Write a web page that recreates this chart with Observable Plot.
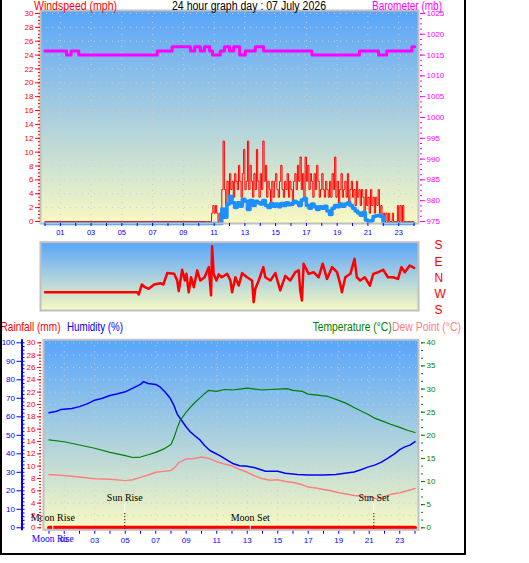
<!DOCTYPE html>
<html>
<head>
<meta charset="utf-8">
<script src="https://cdn.jsdelivr.net/npm/d3@7"></script>
<script src="https://cdn.jsdelivr.net/npm/@observablehq/plot@0.6"></script>
<style>
  html, body { margin: 0; padding: 0; background: #fff; }
  #chart { position: relative; width: 529px; height: 563px; overflow: hidden; background: #fff; }
</style>
</head>
<body>
<div id="chart"></div>
<script>
// ---------------- data ----------------
const dayTitle = "24 hour graph day : 07 July 2026";

// Barometer (mb), step changes: hour of change and new reading
const baroHours  = [0, 1.4, 1.7, 2.2, 7.3, 8.27, 9.46, 9.74, 10.1, 10.37, 10.71, 10.9, 11.4, 11.67, 12.0, 12.27, 12.66, 13.03, 13.68, 14.22, 17.36, 20.45, 21.69, 22.23, 23.86, 24.05];
const baroValues = [1016, 1015, 1016, 1015, 1016, 1017, 1016, 1017, 1016, 1017, 1016, 1015, 1016, 1017, 1016, 1017, 1015, 1016, 1017, 1016, 1015, 1016, 1015, 1016, 1017, 1017];

// Wind gust (mph), 5-minute readings from 10:30; calm before that
const gustStart = 10.5, gustStep = 5 / 60;
const gustValues = [
  0, 0, 0, 0, 1.2, 2.3, 1.2, 2.3, 1.2, 0, 1.2, 0,
  4.6, 11.6, 4.6, 2.3, 5.8, 3.5, 6.9, 4.6, 5.8, 3.5, 6.9, 5.8,
  4.6, 8.1, 5.8, 3.5, 6.9, 10.4, 4.6, 5.8, 11.6, 4.6, 8.1, 5.8,
  3.5, 6.9, 4.6, 10.4, 5.8, 3.5, 6.9, 4.6, 11.6, 5.8, 8.1, 3.5,
  5.8, 4.6, 2.3, 5.8, 3.5, 5.8, 6.9, 4.6, 3.5, 5.8, 8.1, 4.6,
  3.5, 5.8, 4.6, 6.9, 3.5, 5.8, 4.6, 2.3, 5.8, 6.9, 4.6, 8.1,
  5.8, 9.3, 4.6, 6.9, 3.5, 9.3, 5.8, 8.1, 4.6, 6.9, 5.8, 3.5,
  6.9, 4.6, 8.1, 5.8, 3.5, 4.6, 6.9, 4.6, 3.5, 5.8, 4.6, 3.5,
  5.8, 3.5, 6.9, 4.6, 9.3, 3.5, 5.8, 2.3, 4.6, 6.9, 3.5, 4.6,
  5.8, 3.5, 6.9, 2.3, 4.6, 5.8, 3.5, 4.6, 2.3, 5.8, 3.5, 4.6,
  2.3, 4.6, 3.5, 1.2, 4.6, 2.3, 3.5, 1.2, 4.6, 2.3, 3.5, 1.2,
  3.5, 2.3, 4.6, 1.2, 2.3, 0, 1.2, 0, 1.2, 0, 1.2, 0,
  0, 1.2, 0, 0, 0, 2.3, 0, 2.3, 0, 2.3, 0, 0,
  0, 0, 0, 0, 0, 0, 0
];

// Average wind speed (mph), 10-minute readings from 11:30; calm otherwise
const avgStart = 11.5, avgStep = 10 / 60;
const avgValues = [
  2.1, 0.9, 2.8, 3.9, 3.0, 2.3,
  3.0, 2.5, 3.5, 3.2, 2.0, 3.3,
  2.6, 3.2, 3.0, 2.8, 3.3, 2.6,
  2.3, 2.9, 2.5, 2.8, 2.4, 2.9,
  2.6, 3.0, 2.7, 2.9, 3.2, 3.0,
  2.6, 3.4, 3.6, 2.6, 2.2, 2.8,
  2.4, 2.0, 2.4, 2.2, 2.5, 1.8,
  1.3, 2.2, 2.6, 2.4, 2.8, 2.5,
  2.8, 3.0, 2.6, 2.2, 1.8, 1.5,
  1.2, 1.6, 0.5, 0.2, 0.4, 1.0,
  1.1, 1.2, 1.0, 0
];

// Wind direction (compass bearing, degrees)
const dirHours = [0, 6.0, 6.1, 6.3, 6.5, 6.75, 7.1, 7.5, 7.7, 7.95, 8.4, 8.6, 8.7, 8.92, 9.1, 9.2, 9.35, 9.5, 9.68, 9.9,
  10.1, 10.38, 10.65, 10.8, 10.87, 10.97, 11.15, 11.3, 11.5, 11.85, 12.06, 12.17, 12.38, 12.6, 12.82, 13.14, 13.47, 13.57, 13.68, 13.9,
  14.2, 14.33, 14.66, 14.98, 15.3, 15.63, 15.95, 16.28, 16.5, 16.6, 16.71, 16.82, 17.15, 17.47, 17.8, 18.06, 18.34, 18.67, 18.99, 19.2,
  19.31, 19.53, 19.86, 20.13, 20.28, 20.5, 20.8, 21.13, 21.35, 21.67, 22.0, 22.3, 22.64, 22.96, 23.18, 23.4, 23.72, 24.0];
const dirBearings = [281, 281, 269, 324, 309, 300, 324, 331, 324, 27, 23, 346, 287, 45, 346, 23, 281, 4, 309, 42,
  346, 4, 60, 263, 175, 23, 346, 20, 4, 23, 346, 281, 4, 318, 27, 4, 346, 226, 300, 346,
  60, 4, 346, 27, 291, 12, 346, 32, 42, 291, 235, 79, 23, 32, 4, 79, 355, 60, 32, 327,
  281, 4, 23, 106, 4, 346, 4, 318, 23, 32, 45, 4, 4, 355, 60, 32, 69, 56];
const compassAt = [180, 90, 0, -90, -180];
const compassLabels = ["S", "E", "N", "W", "S"];

// Humidity (%)
const humHours  = [0, 0.5, 0.8, 1.5, 2, 2.5, 3, 3.5, 4, 4.5, 5, 5.5, 6, 6.2, 6.5, 7, 7.3, 7.6, 7.95, 8.2, 8.4, 8.7, 9, 9.25, 9.6, 9.9, 10.2, 10.55, 11.2, 11.6, 12.1, 12.5, 13, 13.5, 14.2, 15, 15.5, 16.3, 17, 18, 18.8, 19.4, 20, 20.5, 20.9, 21.4, 21.8, 22.2, 22.65, 23, 23.3, 23.7, 24];
const humValues = [62.2, 63, 64, 64.5, 65.5, 67, 69, 70, 71.5, 72.5, 73.5, 75.5, 77.5, 79, 78, 77.5, 76, 73.5, 70, 66, 61.6, 58, 54.5, 52, 49.5, 47.5, 44.5, 41.8, 39, 37, 34.6, 33.5, 33.3, 32.5, 30.6, 30.6, 29.5, 28.8, 28.5, 28.5, 28.8, 29.5, 30.2, 31.5, 32.8, 34, 35.5, 37.5, 40, 42.3, 43.6, 44.8, 46.6];

// Temperature (°C)
const tempHours  = [0, 1, 2, 3, 4, 5, 5.5, 6, 6.5, 7, 7.5, 8, 8.2, 8.4, 8.6, 9, 9.25, 9.6, 9.9, 10.2, 10.45, 11, 11.5, 12, 12.5, 13, 13.5, 14, 14.5, 15, 15.6, 16, 16.6, 17, 17.6, 18.3, 18.95, 19.5, 20, 20.5, 21, 21.35, 22, 22.4, 23, 23.5, 24];
const tempValues = [19.0, 18.6, 17.9, 17.2, 16.3, 15.6, 15.2, 15.3, 15.8, 16.3, 17.0, 18.0, 19.5, 21.5, 23.2, 25.0, 26.0, 27.2, 28.1, 29.0, 29.7, 29.5, 29.9, 29.8, 30.0, 30.2, 30.0, 29.8, 29.9, 30.0, 30.1, 29.7, 29.5, 28.9, 28.7, 28.4, 27.6, 26.9, 26.0, 25.2, 24.4, 23.7, 22.9, 22.4, 21.7, 21.1, 20.6];

// Dew point (°C)
const dewHours  = [0, 1, 2, 3, 4, 5, 5.5, 6, 6.5, 7, 7.5, 8, 8.3, 8.5, 9, 9.5, 10, 10.5, 11, 11.5, 12, 12.5, 13, 13.5, 14, 14.5, 15, 15.5, 16, 16.5, 17, 17.5, 18, 18.5, 19, 19.5, 20, 20.5, 21, 21.5, 22, 22.5, 23, 23.5, 24];
const dewValues = [11.5, 11.3, 11.0, 10.6, 10.5, 10.2, 10.4, 10.9, 11.4, 12.0, 12.2, 12.4, 13.2, 14.1, 14.9, 15.0, 15.3, 15.0, 14.3, 13.8, 13.4, 12.6, 12.0, 11.2, 10.6, 10.3, 10.4, 10.0, 9.8, 9.4, 8.8, 8.6, 8.3, 8.0, 7.6, 7.3, 7.0, 6.9, 6.7, 6.3, 6.8, 7.3, 7.6, 8.0, 8.5];

// Rainfall (mm), hourly totals
const rainHours  = [0, 1, 2, 3, 4, 5, 6, 7, 8, 9, 10, 11, 12, 13, 14, 15, 16, 17, 18, 19, 20, 21, 22, 23, 24];
const rainValues = [0, 0, 0, 0, 0, 0, 0, 0, 0, 0, 0, 0, 0, 0, 0, 0, 0, 0, 0, 0, 0, 0, 0, 0, 0];

// Sun and moon events (hour of day)
const sunRise = 4.97, sunSet = 21.3, moonRise = 0.25, moonSet = 13.2;

// Axis ticks and labels
const windTicks  = [0, 2, 4, 6, 8, 10, 12, 14, 16, 18, 20, 22, 24, 26, 28, 30];
const windMinor  = d3.range(0, 30.01, 0.5);
const baroTicks  = [975, 980, 985, 990, 995, 1000, 1005, 1010, 1015, 1020, 1025];
const baroMinor  = d3.range(975, 1025.01, 1.25);
const hourTicks  = [1, 3, 5, 7, 9, 11, 13, 15, 17, 19, 21, 23];
const hourLabels = ["01", "03", "05", "07", "09", "11", "13", "15", "17", "19", "21", "23"];
const allHours   = d3.range(0, 25);
const humTicks   = [0, 10, 20, 30, 40, 50, 60, 70, 80, 90, 100];
const humMinor   = d3.range(0, 100.01, 2);
const rainTicks  = [0, 2, 4, 6, 8, 10, 12, 14, 16, 18, 20, 22, 24, 26, 28, 30];
const rainMinor  = d3.range(0, 30.01, 0.5);
const tempTicks  = [0, 5, 10, 15, 20, 25, 30, 35, 40];
const tempMinor  = d3.range(0, 40.01, 5 / 3);

// ---------------- drawing ----------------
const chart = document.getElementById("chart");
const skyTop = "#58a5fb", skyBottom = "#f9f9c2";
const gridColor = "#cdcdcd";
const frameGray = "#c0c0c0";
const BLUE = "#0000ff", RED = "#ff0000", MAGENTA = "#ff00ff", GREEN = "#008000", PINK = "#ff8080";
const sans = "'Liberation Sans', Arial, sans-serif";
const serif = "'Liberation Serif', 'Times New Roman', serif";
const plotStyle = {background: "transparent", overflow: "visible", fontFamily: sans, fontSize: "8px"};
const grid = {stroke: gridColor, strokeDasharray: "1,5", strokeWidth: 1};

function place(svg, left, top) {
  svg.style.position = "absolute";
  svg.style.left = left + "px";
  svg.style.top = top + "px";
  chart.appendChild(svg);
  return svg;
}
function addSky(svg, id) {
  const g = d3.select(svg).insert("defs", ":first-child")
    .append("linearGradient").attr("id", id)
    .attr("x1", 0).attr("y1", 0).attr("x2", 0).attr("y2", 1);
  g.append("stop").attr("offset", "0%").attr("stop-color", skyTop);
  g.append("stop").attr("offset", "100%").attr("stop-color", skyBottom);
}

// --- wind speed & barometer panel ---
const toW = b => (b - 975) * 0.6;               // mb onto the shared windspeed axis
const gust = [{h: 0, v: 0}, ...gustValues.map((v, i) => ({h: gustStart + i * gustStep, v}))];
const avg = [{h: 0, v: 0}, ...avgValues.map((v, i) => ({h: avgStart + i * avgStep, v})), {h: 24, v: 0}];
const baro = baroHours.map((h, i) => ({h, v: baroValues[i]}));
const hourFmt = d => hourLabels[hourTicks.indexOf(d)];

const windPlot = Plot.plot({
  width: 470, height: 245,
  marginLeft: 40, marginRight: 52, marginTop: 10, marginBottom: 22,
  x: {domain: [-0.29, 24.29], axis: null, label: null},
  y: {domain: [-0.29, 30.43], axis: null, label: null},
  style: plotStyle,
  marks: [
    Plot.frame({fill: "url(#skyA)"}),
    Plot.ruleY(windTicks.slice(1), grid),
    Plot.ruleX(hourTicks, grid),
    Plot.line(baro, {x: "h", y: d => toW(d.v), curve: "step-after", stroke: MAGENTA, strokeWidth: 3}),
    Plot.line(gust, {x: "h", y: "v", curve: "step-after", stroke: RED, strokeWidth: 1}),
    Plot.line(avg, {x: "h", y: "v", curve: "step-after", stroke: "#1e8fff", strokeWidth: 3.5, dy: 2}),
    Plot.frame({stroke: frameGray, strokeWidth: 2}),
    Plot.axisY(windTicks, {anchor: "left", tickSize: 5, tickPadding: 2, color: RED, label: null}),
    Plot.axisY(windMinor, {anchor: "left", tickSize: 2, tickFormat: () => "", color: RED, label: null}),
    Plot.axisY(baroTicks.map(toW), {anchor: "right", dx: 1, tickSize: 5, tickPadding: 2, color: MAGENTA, label: null,
      tickFormat: d => String(Math.round(d / 0.6 + 975))}),
    Plot.axisY(baroMinor.map(toW), {anchor: "right", dx: 1, tickSize: 2, tickFormat: () => "", color: MAGENTA, label: null}),
    Plot.axisX(allHours, {anchor: "bottom", tickSize: 3, tickFormat: () => "", color: BLUE, label: null}),
    Plot.axisX(hourTicks, {anchor: "bottom", tickSize: 0, tickPadding: 6, color: BLUE, fontSize: 7.5, tickFormat: hourFmt, label: null})
  ]
});
addSky(windPlot, "skyA");
place(windPlot, 0, 0);

// --- wind direction panel ---
const dirs = dirHours.map((h, i) => ({h, b: dirBearings[i]}));
const dirPlot = Plot.plot({
  width: 470, height: 90,
  marginLeft: 40, marginRight: 52, marginTop: 11.7, marginBottom: 10,
  x: {domain: [-0.29, 24.29], axis: null, label: null},
  y: {domain: [-180, 198], axis: null, label: null},
  style: plotStyle,
  marks: [
    Plot.frame({fill: "url(#skyB)"}),
    Plot.line(dirs, {x: "h", y: d => (d.b > 180 ? d.b - 360 : d.b), stroke: RED, strokeWidth: 2.5}),
    Plot.frame({stroke: frameGray, strokeWidth: 2}),
    Plot.axisY(compassAt, {anchor: "right", tickSize: 0, tickPadding: 16, color: RED, fontSize: 12, label: null,
      tickFormat: d => compassLabels[compassAt.indexOf(d)]})
  ]
});
addSky(dirPlot, "skyB");
place(dirPlot, 0, 230);

// --- rainfall / humidity / temperature panel ---
const T = t => t * 2.5;        // °C onto the shared 0–100 axis
const R = r => r * 10 / 3;     // mm onto the shared 0–100 axis
const humidity = humHours.map((h, i) => ({h, v: humValues[i]}));
const temperature = tempHours.map((h, i) => ({h, v: tempValues[i]}));
const dewpoint = dewHours.map((h, i) => ({h, v: dewValues[i]}));
const rain = rainHours.map((h, i) => ({h, v: rainValues[i]}));
const xLo = -0.36;

const climatePlot = Plot.plot({
  width: 470, height: 223,
  marginLeft: 43, marginRight: 52, marginTop: 9.3, marginBottom: 23.7,
  x: {domain: [xLo, 24.23], axis: null, label: null},
  y: {domain: [-1.08, 101.62], axis: null, label: null},
  style: plotStyle,
  marks: [
    Plot.frame({fill: "url(#skyC)"}),
    Plot.ruleY(rainTicks.slice(1).map(R), grid),
    Plot.ruleX(hourTicks, grid),
    Plot.line(humidity, {x: "h", y: "v", stroke: BLUE, strokeWidth: 1.5}),
    Plot.line(temperature, {x: "h", y: d => T(d.v), stroke: GREEN, strokeWidth: 1.2}),
    Plot.line(dewpoint, {x: "h", y: d => T(d.v), stroke: PINK, strokeWidth: 1.5}),
    Plot.line(rain, {x: "h", y: d => R(d.v), stroke: RED, strokeWidth: 4}),
    // sun rise / set markers
    Plot.ruleX([sunRise, sunSet], {y1: 7.7, y2: 13.1, stroke: "white", strokeWidth: 1}),
    Plot.ruleX([sunRise, sunSet], {y1: -1, y2: 7.7, stroke: "black", strokeWidth: 1, strokeDasharray: "1,2"}),
    Plot.text([sunRise], {x: d => d, y: 16.2, text: () => "Sun Rise", fontFamily: serif, fontSize: 10, fill: "black"}),
    Plot.text([sunSet], {x: d => d, y: 16.2, text: () => "Sun Set", fontFamily: serif, fontSize: 10, fill: "black"}),
    // moon rise / set markers
    Plot.ruleX([moonRise, moonSet], {y1: -1, y2: 1.3, stroke: "white", strokeWidth: 1}),
    Plot.text([moonRise], {x: d => d, y: 5.6, text: () => "Moon Rise", fontFamily: serif, fontSize: 10, fill: "black"}),
    Plot.text([moonSet], {x: d => d, y: 5.6, text: () => "Moon Set", fontFamily: serif, fontSize: 10, fill: "black"}),
    Plot.frame({stroke: frameGray, strokeWidth: 2}),
    // humidity axis (outer left)
    Plot.ruleX([xLo], {y1: -1.6, y2: 101.62, dx: -21.5, stroke: BLUE, strokeWidth: 2}),
    Plot.axisY(humTicks, {anchor: "left", dx: -21.5, tickSize: 5, tickPadding: 2, color: BLUE, label: null}),
    Plot.axisY(humMinor, {anchor: "left", dx: -18.5, tickSize: 2, tickFormat: () => "", color: BLUE, label: null}),
    // rainfall axis (inner left)
    Plot.axisY(rainTicks.map(R), {anchor: "left", dx: -2, tickSize: 4, tickPadding: 2, color: RED, label: null,
      tickFormat: d => String(Math.round(d * 0.3))}),
    Plot.axisY(rainMinor.map(R), {anchor: "left", dx: -2, tickSize: 2, tickFormat: () => "", color: RED, label: null}),
    // temperature axis (right)
    Plot.axisY(tempTicks.map(T), {anchor: "right", dx: 2, tickSize: 4, tickPadding: 2, color: GREEN, label: null,
      tickFormat: d => String(Math.round(d / 2.5))}),
    Plot.axisY(tempMinor.map(T), {anchor: "right", dx: 2, tickSize: 2, tickFormat: () => "", color: GREEN, label: null}),
    // hours along the bottom
    Plot.axisX(allHours, {anchor: "bottom", dy: 1.5, tickSize: 3, tickFormat: () => "", color: BLUE, label: null}),
    Plot.axisX(hourTicks.slice(1), {anchor: "bottom", tickSize: 0, tickPadding: 8, color: BLUE, fontSize: 8, label: null,
      tickFormat: hourFmt}),
    Plot.text([moonRise], {x: d => d, frameAnchor: "bottom", dy: 12, text: () => "Moon Rise", fontFamily: serif,
      fontSize: 9.5, fill: BLUE}),
    Plot.text([1], {x: d => d, frameAnchor: "bottom", dy: 12, text: hourFmt, fontSize: 8, fill: BLUE})
  ]
});
addSky(climatePlot, "skyC");
place(climatePlot, 0, 330);

// --- titles and outer border ---
const overlay = d3.create("svg")
  .attr("width", 529).attr("height", 563)
  .style("position", "absolute").style("left", "0px").style("top", "0px")
  .style("pointer-events", "none");
const titles = [
  {text: "Windspeed (mph)", x: 34, y: 10, len: 83, color: RED},
  {text: dayTitle, x: 172, y: 10, len: 154, color: "black"},
  {text: "Barometer (mb)", x: 372, y: 10, len: 70, color: MAGENTA},
  {text: "Rainfall (mm)", x: 0.5, y: 331, len: 60, color: RED},
  {text: "Humidity (%)", x: 67, y: 331, len: 56, color: BLUE},
  {text: "Temperature (°C)", x: 312.7, y: 331, len: 79, color: GREEN},
  {text: "Dew Point (°C)", x: 392, y: 331, len: 69, color: PINK}
];
overlay.selectAll("text").data(titles).join("text")
  .attr("x", d => d.x).attr("y", d => d.y)
  .attr("textLength", d => d.len).attr("lengthAdjust", "spacingAndGlyphs")
  .attr("fill", d => d.color)
  .style("font-family", sans).style("font-size", "12px")
  .text(d => d.text);
overlay.append("rect").attr("x", 0).attr("y", 0).attr("width", 2).attr("height", 555).attr("fill", "black");
overlay.append("rect").attr("x", 464).attr("y", 0).attr("width", 2).attr("height", 555).attr("fill", "black");
overlay.append("rect").attr("x", 0).attr("y", 553).attr("width", 466).attr("height", 2).attr("fill", "black");
chart.appendChild(overlay.node());
</script>
</body>
</html>
